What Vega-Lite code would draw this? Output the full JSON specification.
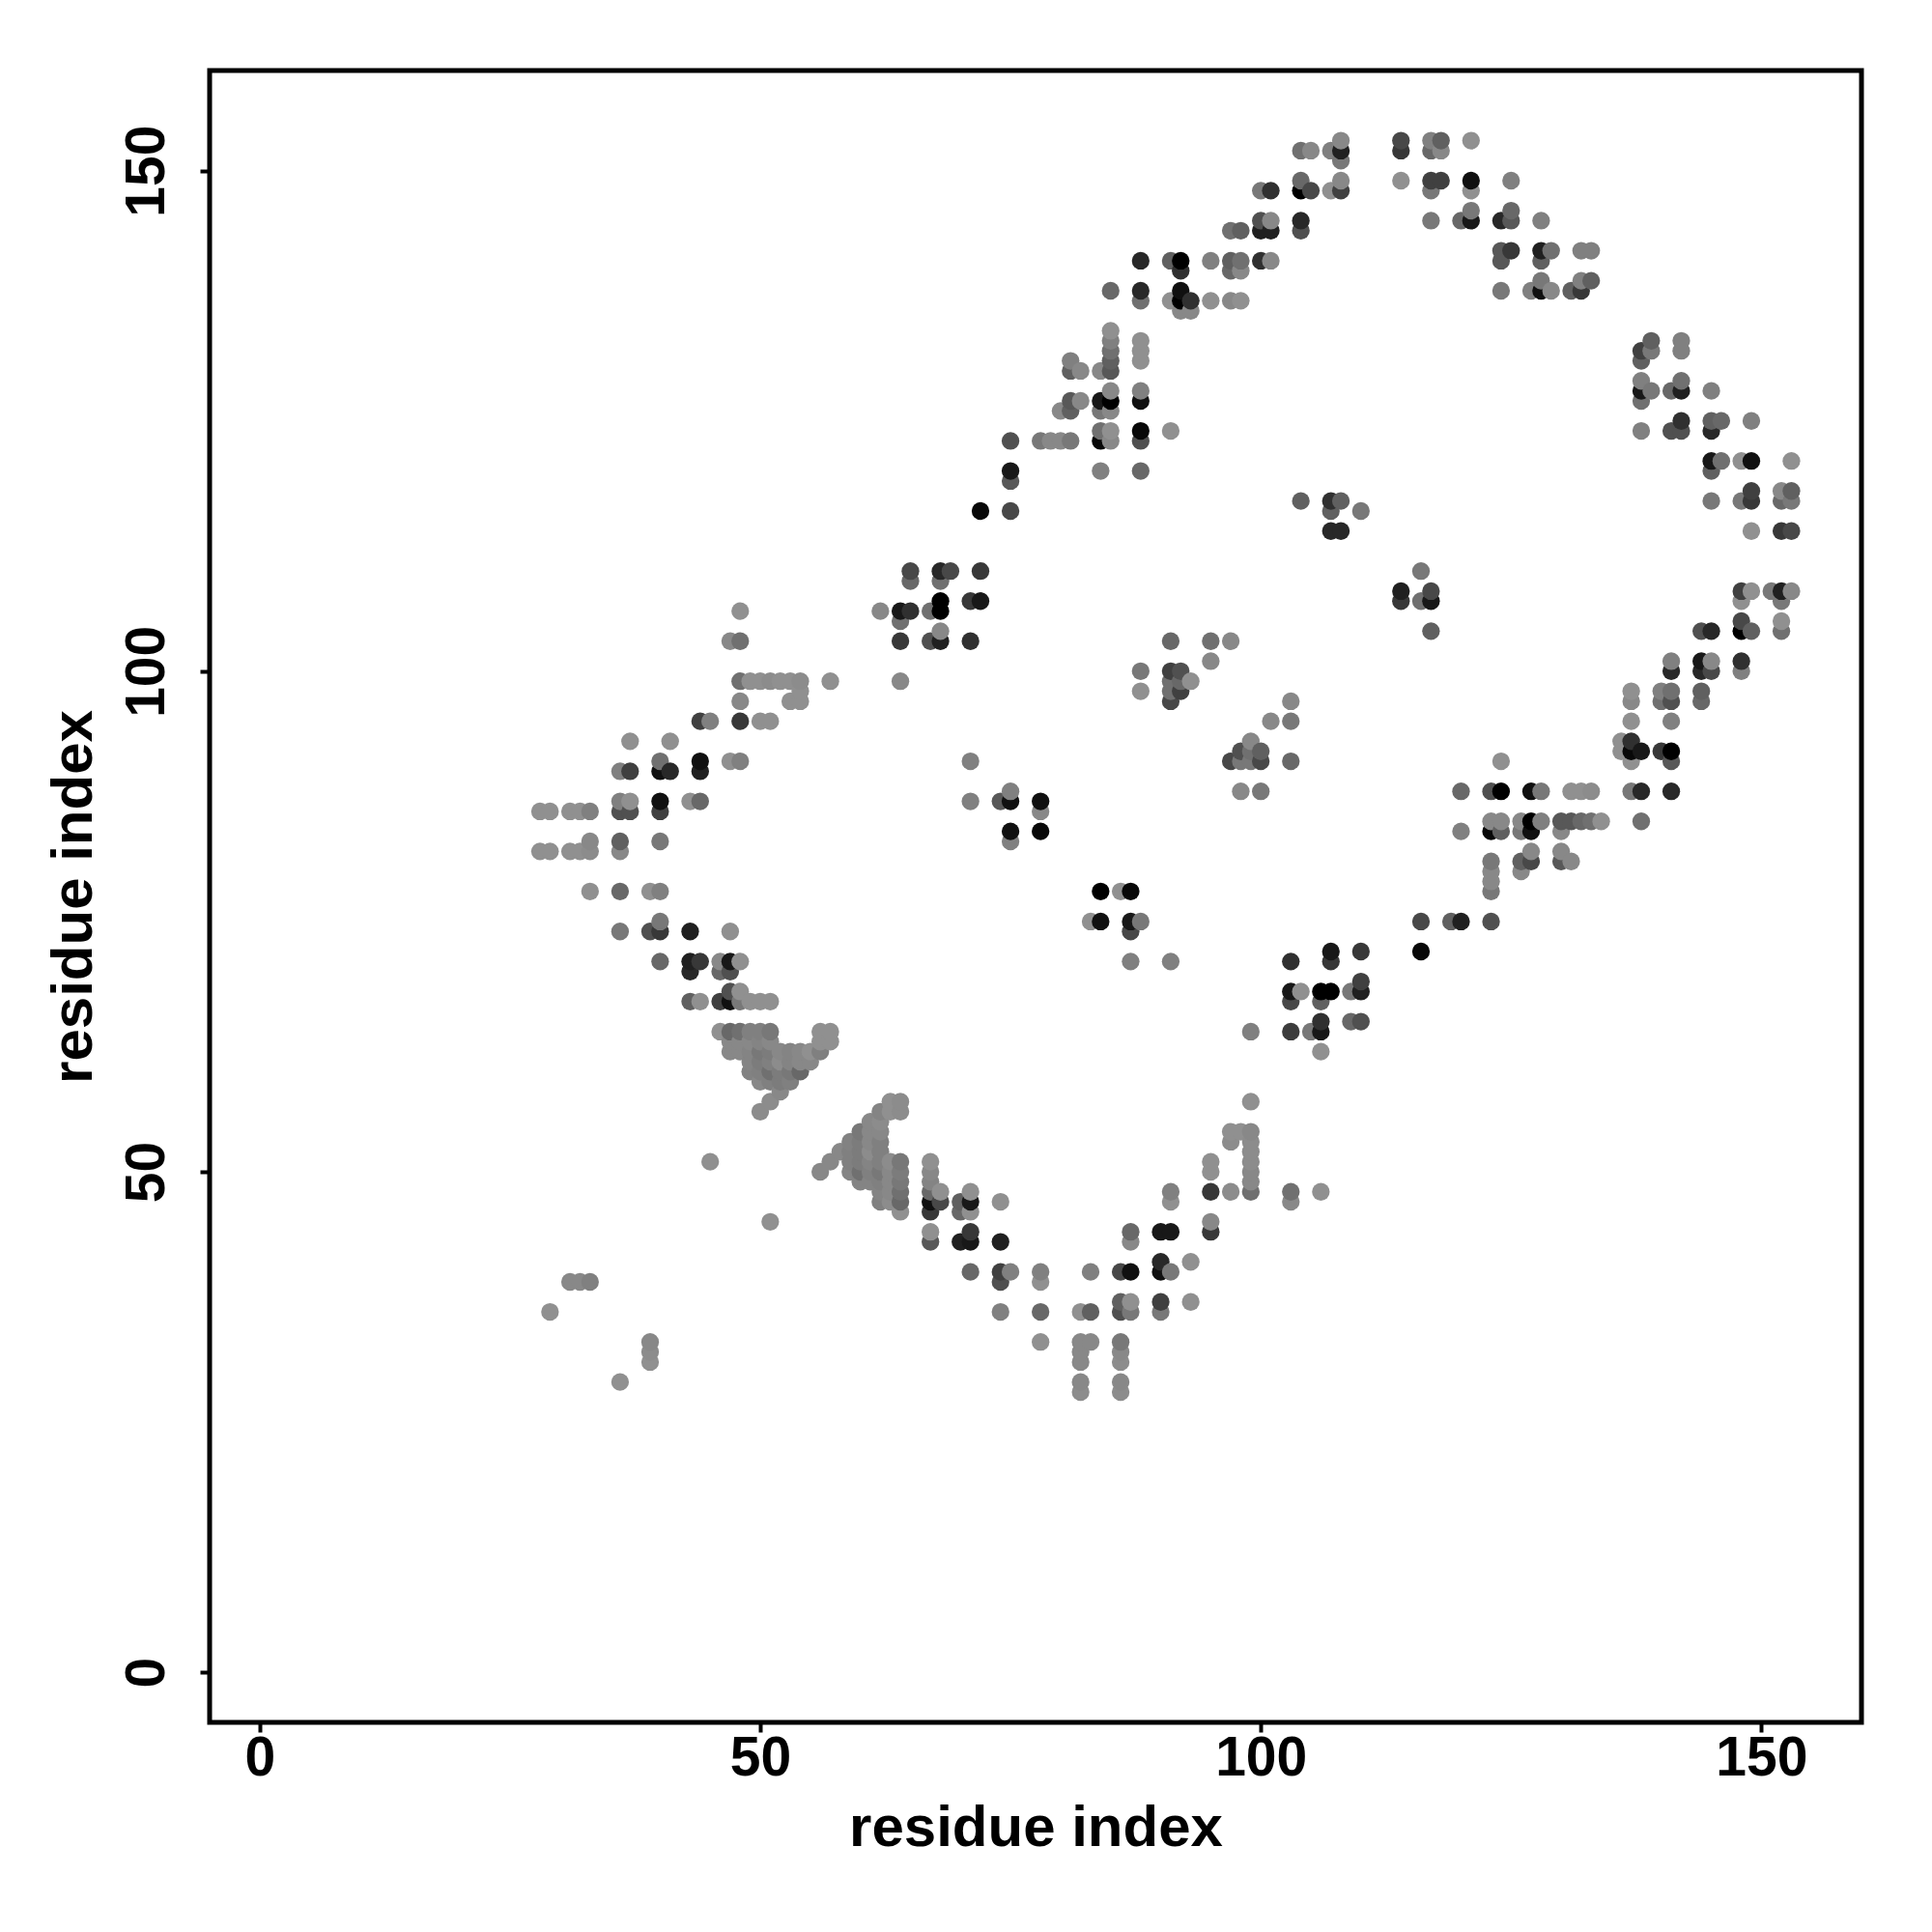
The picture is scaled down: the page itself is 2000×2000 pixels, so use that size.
{"$schema":"https://vega.github.io/schema/vega-lite/v6.json","autosize":{"type":"none"},"padding":{"left":217,"top":73,"right":73,"bottom":217},"width":1710,"height":1710,"background":"white","config":{"view":{"stroke":"black","strokeWidth":5,"fill":"white"}},
"data":{"values":[
{"x":48,"y":106,"g":144},{"x":62,"y":106,"g":136},{"x":64,"y":106,"g":24},{"x":65,"y":106,"g":48},{"x":67,"y":106,"g":112},{"x":68,"y":106,"g":0},
{"x":47,"y":103,"g":136},{"x":48,"y":103,"g":112},{"x":64,"y":103,"g":56},{"x":67,"y":103,"g":80},{"x":68,"y":103,"g":32},{"x":71,"y":103,"g":48},
{"x":65,"y":110,"g":72},{"x":68,"y":110,"g":40},{"x":69,"y":110,"g":72},{"x":72,"y":110,"g":56},{"x":65,"y":109,"g":104},{"x":68,"y":109,"g":112},{"x":68,"y":107,"g":0},{"x":71,"y":107,"g":56},{"x":72,"y":107,"g":24},{"x":64,"y":105,"g":112},{"x":68,"y":104,"g":136},
{"x":48,"y":99,"g":112},{"x":49,"y":99,"g":144},{"x":50,"y":99,"g":144},{"x":51,"y":99,"g":140},{"x":52,"y":99,"g":144},{"x":53,"y":99,"g":144},{"x":54,"y":99,"g":140},{"x":57,"y":99,"g":144},{"x":64,"y":99,"g":136},
{"x":54,"y":98,"g":144},{"x":48,"y":97,"g":136},{"x":53,"y":97,"g":144},{"x":54,"y":97,"g":144},
{"x":44,"y":95,"g":64},{"x":45,"y":95,"g":128},{"x":48,"y":95,"g":56},{"x":50,"y":95,"g":144},{"x":51,"y":95,"g":144},
{"x":37,"y":93,"g":144},{"x":41,"y":93,"g":144},
{"x":40,"y":91,"g":112},{"x":44,"y":91,"g":16},{"x":47,"y":91,"g":144},{"x":48,"y":91,"g":128},{"x":71,"y":91,"g":128},
{"x":36,"y":90,"g":128},{"x":37,"y":90,"g":64},{"x":40,"y":90,"g":16},{"x":41,"y":90,"g":40},{"x":44,"y":90,"g":32},
{"x":36,"y":87,"g":128},{"x":37,"y":87,"g":144},{"x":40,"y":87,"g":16},{"x":43,"y":87,"g":144},{"x":44,"y":87,"g":104},{"x":71,"y":87,"g":128},
{"x":28,"y":86,"g":144},{"x":29,"y":86,"g":144},{"x":31,"y":86,"g":144},{"x":32,"y":86,"g":144},{"x":33,"y":86,"g":128},{"x":36,"y":86,"g":80},{"x":37,"y":86,"g":80},{"x":40,"y":86,"g":64},
{"x":33,"y":83,"g":136},{"x":36,"y":83,"g":96},{"x":40,"y":83,"g":120},
{"x":28,"y":82,"g":144},{"x":29,"y":82,"g":144},{"x":31,"y":82,"g":144},{"x":32,"y":82,"g":144},{"x":33,"y":82,"g":140},{"x":36,"y":82,"g":136},
{"x":33,"y":78,"g":144},{"x":36,"y":78,"g":104},{"x":39,"y":78,"g":144},{"x":40,"y":78,"g":128},
{"x":40,"y":75,"g":120},{"x":36,"y":74,"g":120},{"x":39,"y":74,"g":80},{"x":40,"y":74,"g":56},{"x":43,"y":74,"g":32},{"x":47,"y":74,"g":144},
{"x":40,"y":71,"g":104},{"x":43,"y":71,"g":32},{"x":44,"y":71,"g":56},{"x":46,"y":71,"g":136},{"x":47,"y":71,"g":24},{"x":48,"y":71,"g":144},
{"x":43,"y":70,"g":40},{"x":46,"y":70,"g":104},{"x":47,"y":70,"g":80},{"x":47,"y":68,"g":80},{"x":48,"y":68,"g":144},
{"x":43,"y":67,"g":96},{"x":44,"y":67,"g":144},{"x":46,"y":67,"g":64},{"x":47,"y":67,"g":16},{"x":48,"y":67,"g":120},{"x":49,"y":67,"g":144},{"x":50,"y":67,"g":144},{"x":51,"y":67,"g":144},
{"x":46,"y":64,"g":144},{"x":47,"y":64,"g":104},{"x":48,"y":64,"g":112},{"x":49,"y":64,"g":128},{"x":50,"y":64,"g":128},{"x":51,"y":64,"g":120},{"x":56,"y":64,"g":144},{"x":57,"y":64,"g":144},
{"x":47,"y":63,"g":136},{"x":48,"y":63,"g":136},{"x":49,"y":63,"g":136},{"x":50,"y":63,"g":132},{"x":51,"y":63,"g":136},{"x":56,"y":63,"g":144},{"x":57,"y":63,"g":144},
{"x":47,"y":62,"g":136},{"x":48,"y":62,"g":136},{"x":49,"y":62,"g":132},{"x":50,"y":62,"g":120},{"x":51,"y":62,"g":124},{"x":52,"y":62,"g":136},{"x":53,"y":62,"g":132},{"x":54,"y":62,"g":136},{"x":55,"y":62,"g":144},{"x":56,"y":62,"g":128},
{"x":49,"y":61,"g":132},{"x":50,"y":61,"g":124},{"x":51,"y":61,"g":128},{"x":52,"y":61,"g":140},{"x":53,"y":61,"g":132},{"x":54,"y":61,"g":136},{"x":55,"y":61,"g":136},
{"x":49,"y":60,"g":130},{"x":50,"y":60,"g":128},{"x":51,"y":60,"g":112},{"x":52,"y":60,"g":124},{"x":53,"y":60,"g":120},{"x":54,"y":60,"g":104},
{"x":50,"y":59,"g":136},{"x":51,"y":59,"g":128},{"x":52,"y":59,"g":124},{"x":53,"y":59,"g":128},{"x":52,"y":58,"g":136},{"x":51,"y":57,"g":140},{"x":50,"y":56,"g":140},
{"x":45,"y":51,"g":144},{"x":51,"y":45,"g":144},{"x":31,"y":39,"g":136},{"x":32,"y":39,"g":136},{"x":33,"y":39,"g":128},{"x":29,"y":36,"g":144},{"x":39,"y":33,"g":136},{"x":39,"y":32,"g":140},{"x":39,"y":31,"g":144},{"x":36,"y":29,"g":144},
{"x":63,"y":57,"g":144},{"x":64,"y":57,"g":140},{"x":62,"y":56,"g":132},{"x":63,"y":56,"g":144},{"x":64,"y":56,"g":140},{"x":61,"y":55,"g":136},{"x":62,"y":55,"g":140},{"x":60,"y":54,"g":120},{"x":61,"y":54,"g":136},{"x":62,"y":54,"g":136},
{"x":59,"y":53,"g":130},{"x":60,"y":53,"g":124},{"x":61,"y":53,"g":136},{"x":62,"y":53,"g":128},{"x":58,"y":52,"g":136},{"x":59,"y":52,"g":128},{"x":60,"y":52,"g":124},{"x":61,"y":52,"g":140},{"x":62,"y":52,"g":128},
{"x":57,"y":51,"g":136},{"x":59,"y":51,"g":128},{"x":60,"y":51,"g":124},{"x":61,"y":51,"g":132},{"x":62,"y":51,"g":128},{"x":63,"y":51,"g":140},{"x":64,"y":51,"g":120},
{"x":56,"y":50,"g":136},{"x":59,"y":50,"g":132},{"x":60,"y":50,"g":112},{"x":61,"y":50,"g":128},{"x":62,"y":50,"g":120},{"x":63,"y":50,"g":136},{"x":64,"y":50,"g":124},
{"x":60,"y":49,"g":132},{"x":61,"y":49,"g":132},{"x":62,"y":49,"g":128},{"x":63,"y":49,"g":136},{"x":64,"y":49,"g":120},{"x":62,"y":48,"g":132},{"x":63,"y":48,"g":136},{"x":64,"y":48,"g":112},{"x":62,"y":47,"g":128},{"x":63,"y":47,"g":140},{"x":64,"y":47,"g":104},{"x":64,"y":46,"g":144},
{"x":67,"y":51,"g":144},{"x":67,"y":50,"g":136},{"x":67,"y":49,"g":132},{"x":67,"y":48,"g":104},{"x":67,"y":47,"g":16},{"x":67,"y":46,"g":56},{"x":67,"y":44,"g":144},{"x":67,"y":43,"g":88},{"x":68,"y":48,"g":144},{"x":68,"y":47,"g":72},
{"x":70,"y":47,"g":96},{"x":70,"y":46,"g":104},{"x":70,"y":43,"g":32},{"x":71,"y":48,"g":144},{"x":71,"y":47,"g":24},{"x":71,"y":46,"g":144},{"x":71,"y":44,"g":56},{"x":71,"y":43,"g":24},{"x":71,"y":40,"g":104},
{"x":74,"y":47,"g":144},{"x":74,"y":43,"g":32},{"x":74,"y":40,"g":64},{"x":74,"y":39,"g":80},{"x":74,"y":36,"g":128},{"x":75,"y":40,"g":128},{"x":78,"y":40,"g":128},{"x":78,"y":39,"g":144},{"x":78,"y":36,"g":104},{"x":78,"y":33,"g":144},
{"x":82,"y":36,"g":144},{"x":82,"y":33,"g":136},{"x":82,"y":32,"g":136},{"x":82,"y":31,"g":136},{"x":82,"y":29,"g":136},{"x":82,"y":28,"g":140},{"x":83,"y":40,"g":128},{"x":83,"y":36,"g":96},{"x":83,"y":33,"g":136},
{"x":86,"y":40,"g":72},{"x":86,"y":37,"g":96},{"x":86,"y":36,"g":80},{"x":86,"y":33,"g":120},{"x":86,"y":32,"g":136},{"x":86,"y":31,"g":140},{"x":86,"y":29,"g":136},{"x":86,"y":28,"g":140},
{"x":87,"y":44,"g":104},{"x":87,"y":43,"g":136},{"x":87,"y":40,"g":16},{"x":87,"y":37,"g":144},{"x":87,"y":36,"g":120},{"x":90,"y":44,"g":24},{"x":90,"y":41,"g":40},{"x":90,"y":40,"g":16},{"x":90,"y":37,"g":64},{"x":90,"y":36,"g":120},
{"x":91,"y":48,"g":128},{"x":91,"y":47,"g":144},{"x":91,"y":44,"g":24},{"x":91,"y":40,"g":120},{"x":93,"y":41,"g":144},{"x":93,"y":37,"g":144},
{"x":95,"y":51,"g":144},{"x":95,"y":50,"g":144},{"x":95,"y":48,"g":56},{"x":95,"y":45,"g":136},{"x":95,"y":44,"g":56},{"x":97,"y":54,"g":144},{"x":97,"y":53,"g":140},{"x":97,"y":48,"g":140},{"x":98,"y":54,"g":144},
{"x":99,"y":57,"g":144},{"x":99,"y":54,"g":136},{"x":99,"y":53,"g":140},{"x":99,"y":52,"g":140},{"x":99,"y":51,"g":140},{"x":99,"y":50,"g":136},{"x":99,"y":49,"g":136},{"x":99,"y":48,"g":112},{"x":103,"y":48,"g":112},{"x":103,"y":47,"g":136},{"x":106,"y":48,"g":144},
{"x":84,"y":78,"g":0},{"x":86,"y":78,"g":144},{"x":87,"y":78,"g":8},{"x":83,"y":75,"g":144},{"x":84,"y":75,"g":16},{"x":87,"y":75,"g":24},{"x":88,"y":75,"g":120},{"x":87,"y":74,"g":72},{"x":87,"y":71,"g":128},{"x":91,"y":71,"g":128},
{"x":99,"y":64,"g":128},{"x":103,"y":71,"g":48},{"x":107,"y":72,"g":24},{"x":107,"y":71,"g":56},{"x":110,"y":72,"g":56},{"x":110,"y":69,"g":64},{"x":103,"y":68,"g":24},{"x":104,"y":68,"g":144},{"x":106,"y":68,"g":0},{"x":107,"y":68,"g":0},{"x":109,"y":68,"g":120},{"x":110,"y":68,"g":32},{"x":103,"y":67,"g":72},{"x":106,"y":67,"g":96},{"x":106,"y":65,"g":48},{"x":109,"y":65,"g":104},{"x":110,"y":65,"g":80},{"x":103,"y":64,"g":60},{"x":105,"y":64,"g":120},{"x":106,"y":64,"g":24},{"x":106,"y":62,"g":144},
{"x":116,"y":75,"g":72},{"x":119,"y":75,"g":96},{"x":120,"y":75,"g":32},{"x":123,"y":75,"g":80},{"x":116,"y":72,"g":8},
{"x":75,"y":88,"g":128},{"x":74,"y":87,"g":88},{"x":75,"y":87,"g":16},{"x":78,"y":87,"g":16},{"x":78,"y":86,"g":136},{"x":75,"y":84,"g":16},{"x":78,"y":84,"g":8},{"x":75,"y":83,"g":128},
{"x":103,"y":97,"g":136},{"x":101,"y":95,"g":136},{"x":103,"y":95,"g":120},{"x":99,"y":93,"g":136},{"x":98,"y":92,"g":80},{"x":99,"y":92,"g":112},{"x":100,"y":92,"g":96},{"x":97,"y":91,"g":72},{"x":98,"y":91,"g":120},{"x":99,"y":91,"g":120},{"x":100,"y":91,"g":72},{"x":103,"y":91,"g":104},{"x":98,"y":88,"g":136},{"x":100,"y":88,"g":120},
{"x":91,"y":103,"g":104},{"x":95,"y":103,"g":112},{"x":97,"y":103,"g":136},{"x":95,"y":101,"g":136},{"x":88,"y":100,"g":120},{"x":91,"y":100,"g":64},{"x":92,"y":100,"g":80},{"x":91,"y":99,"g":112},{"x":92,"y":99,"g":104},{"x":93,"y":99,"g":144},{"x":88,"y":98,"g":144},{"x":91,"y":98,"g":112},{"x":92,"y":98,"g":64},{"x":91,"y":97,"g":72},
{"x":104,"y":117,"g":96},{"x":107,"y":117,"g":48},{"x":108,"y":117,"g":96},{"x":107,"y":116,"g":96},{"x":110,"y":116,"g":120},{"x":107,"y":114,"g":40},{"x":108,"y":114,"g":40},{"x":116,"y":110,"g":120},{"x":114,"y":108,"g":32},{"x":117,"y":108,"g":72},{"x":114,"y":107,"g":56},{"x":116,"y":107,"g":112},{"x":117,"y":107,"g":24},{"x":117,"y":104,"g":96},
{"x":108,"y":153,"g":136},{"x":104,"y":152,"g":112},{"x":105,"y":152,"g":136},{"x":107,"y":152,"g":128},{"x":108,"y":152,"g":32},{"x":108,"y":151,"g":120},{"x":104,"y":149,"g":104},{"x":108,"y":149,"g":136},
{"x":100,"y":148,"g":120},{"x":101,"y":148,"g":48},{"x":104,"y":148,"g":0},{"x":105,"y":148,"g":72},{"x":107,"y":148,"g":144},{"x":108,"y":148,"g":64},
{"x":100,"y":145,"g":80},{"x":101,"y":145,"g":136},{"x":104,"y":145,"g":40},{"x":97,"y":144,"g":112},{"x":98,"y":144,"g":96},{"x":100,"y":144,"g":32},{"x":101,"y":144,"g":32},{"x":104,"y":144,"g":80},
{"x":88,"y":141,"g":40},{"x":91,"y":141,"g":96},{"x":92,"y":141,"g":0},{"x":95,"y":141,"g":128},{"x":97,"y":141,"g":96},{"x":98,"y":141,"g":112},{"x":100,"y":141,"g":48},{"x":101,"y":141,"g":136},{"x":92,"y":140,"g":48},{"x":97,"y":140,"g":104},{"x":98,"y":140,"g":136},
{"x":85,"y":138,"g":104},{"x":88,"y":138,"g":40},{"x":92,"y":138,"g":16},{"x":88,"y":137,"g":112},{"x":91,"y":137,"g":144},{"x":92,"y":137,"g":0},{"x":93,"y":137,"g":48},{"x":95,"y":137,"g":144},{"x":97,"y":137,"g":136},{"x":98,"y":137,"g":144},{"x":92,"y":136,"g":136},{"x":93,"y":136,"g":136},
{"x":85,"y":134,"g":144},{"x":85,"y":133,"g":128},{"x":85,"y":132,"g":112},{"x":85,"y":131,"g":96},{"x":85,"y":130,"g":88},{"x":88,"y":133,"g":144},{"x":88,"y":132,"g":144},{"x":88,"y":131,"g":144},{"x":81,"y":131,"g":128},{"x":81,"y":130,"g":96},{"x":82,"y":130,"g":136},{"x":84,"y":130,"g":136},
{"x":85,"y":128,"g":136},{"x":88,"y":128,"g":128},{"x":81,"y":127,"g":88},{"x":82,"y":127,"g":136},{"x":84,"y":127,"g":24},{"x":85,"y":127,"g":0},{"x":88,"y":127,"g":16},{"x":80,"y":126,"g":136},{"x":81,"y":126,"g":96},{"x":84,"y":126,"g":120},{"x":85,"y":126,"g":136},
{"x":84,"y":124,"g":112},{"x":85,"y":124,"g":144},{"x":88,"y":124,"g":8},{"x":91,"y":124,"g":144},{"x":75,"y":123,"g":80},{"x":78,"y":123,"g":120},{"x":79,"y":123,"g":136},{"x":80,"y":123,"g":136},{"x":81,"y":123,"g":120},{"x":84,"y":123,"g":8},{"x":85,"y":123,"g":136},{"x":88,"y":123,"g":80},
{"x":75,"y":120,"g":24},{"x":84,"y":120,"g":128},{"x":88,"y":120,"g":104},{"x":75,"y":119,"g":88},{"x":72,"y":116,"g":8},{"x":75,"y":116,"g":72},
{"x":114,"y":153,"g":72},{"x":117,"y":153,"g":128},{"x":118,"y":153,"g":96},{"x":121,"y":153,"g":144},{"x":114,"y":152,"g":56},{"x":117,"y":152,"g":104},{"x":118,"y":152,"g":136},
{"x":114,"y":149,"g":144},{"x":117,"y":149,"g":64},{"x":118,"y":149,"g":64},{"x":121,"y":149,"g":16},{"x":125,"y":149,"g":128},{"x":117,"y":148,"g":120},{"x":121,"y":148,"g":144},
{"x":121,"y":146,"g":120},{"x":125,"y":146,"g":104},{"x":117,"y":145,"g":120},{"x":120,"y":145,"g":104},{"x":121,"y":145,"g":24},{"x":124,"y":145,"g":40},{"x":125,"y":145,"g":88},{"x":128,"y":145,"g":128},
{"x":124,"y":142,"g":88},{"x":125,"y":142,"g":56},{"x":128,"y":142,"g":32},{"x":129,"y":142,"g":112},{"x":132,"y":142,"g":128},{"x":133,"y":142,"g":128},{"x":124,"y":141,"g":88},{"x":128,"y":141,"g":96},
{"x":128,"y":139,"g":120},{"x":132,"y":139,"g":128},{"x":133,"y":139,"g":96},{"x":124,"y":138,"g":120},{"x":127,"y":138,"g":128},{"x":128,"y":138,"g":16},{"x":129,"y":138,"g":136},{"x":131,"y":138,"g":96},{"x":132,"y":138,"g":56},
{"x":139,"y":133,"g":96},{"x":142,"y":133,"g":128},{"x":138,"y":132,"g":64},{"x":139,"y":132,"g":120},{"x":142,"y":132,"g":128},{"x":138,"y":131,"g":96},{"x":138,"y":129,"g":128},{"x":142,"y":129,"g":112},
{"x":138,"y":128,"g":24},{"x":139,"y":128,"g":120},{"x":141,"y":128,"g":104},{"x":142,"y":128,"g":32},{"x":145,"y":128,"g":128},{"x":138,"y":127,"g":112},
{"x":142,"y":125,"g":48},{"x":145,"y":125,"g":96},{"x":146,"y":125,"g":104},{"x":149,"y":125,"g":128},{"x":138,"y":124,"g":128},{"x":141,"y":124,"g":80},{"x":142,"y":124,"g":80},{"x":145,"y":124,"g":40},
{"x":145,"y":121,"g":24},{"x":146,"y":121,"g":112},{"x":148,"y":121,"g":144},{"x":149,"y":121,"g":16},{"x":153,"y":121,"g":144},{"x":145,"y":120,"g":96},
{"x":149,"y":118,"g":64},{"x":152,"y":118,"g":136},{"x":153,"y":118,"g":96},{"x":145,"y":117,"g":120},{"x":148,"y":117,"g":120},{"x":149,"y":117,"g":56},{"x":152,"y":117,"g":104},{"x":153,"y":117,"g":120},{"x":149,"y":114,"g":144},{"x":152,"y":114,"g":56},{"x":153,"y":114,"g":72},
{"x":148,"y":108,"g":64},{"x":149,"y":108,"g":144},{"x":151,"y":108,"g":120},{"x":152,"y":108,"g":32},{"x":153,"y":108,"g":136},{"x":148,"y":107,"g":144},{"x":152,"y":107,"g":120},{"x":148,"y":105,"g":72},{"x":152,"y":105,"g":144},
{"x":144,"y":104,"g":80},{"x":145,"y":104,"g":40},{"x":148,"y":104,"g":0},{"x":149,"y":104,"g":96},{"x":152,"y":104,"g":112},
{"x":141,"y":101,"g":128},{"x":144,"y":101,"g":24},{"x":145,"y":101,"g":136},{"x":148,"y":101,"g":48},{"x":141,"y":100,"g":40},{"x":144,"y":100,"g":40},{"x":145,"y":100,"g":72},{"x":148,"y":100,"g":128},
{"x":137,"y":98,"g":144},{"x":140,"y":98,"g":128},{"x":141,"y":98,"g":112},{"x":144,"y":98,"g":96},{"x":137,"y":97,"g":136},{"x":140,"y":97,"g":112},{"x":141,"y":97,"g":80},{"x":144,"y":97,"g":104},{"x":137,"y":95,"g":144},{"x":141,"y":95,"g":128},
{"x":136,"y":93,"g":144},{"x":137,"y":93,"g":48},{"x":136,"y":92,"g":144},{"x":137,"y":92,"g":8},{"x":138,"y":92,"g":24},{"x":140,"y":92,"g":56},{"x":141,"y":92,"g":0},{"x":137,"y":91,"g":144},{"x":141,"y":91,"g":88},
{"x":124,"y":91,"g":144},{"x":120,"y":88,"g":104},{"x":123,"y":88,"g":80},{"x":124,"y":88,"g":0},{"x":127,"y":88,"g":16},{"x":128,"y":88,"g":120},{"x":131,"y":88,"g":144},{"x":132,"y":88,"g":144},{"x":133,"y":88,"g":140},{"x":137,"y":88,"g":120},{"x":138,"y":88,"g":40},{"x":141,"y":88,"g":40},
{"x":123,"y":85,"g":136},{"x":124,"y":85,"g":136},{"x":126,"y":85,"g":136},{"x":127,"y":85,"g":0},{"x":128,"y":85,"g":128},{"x":130,"y":85,"g":88},{"x":131,"y":85,"g":88},{"x":132,"y":85,"g":104},{"x":133,"y":85,"g":112},{"x":134,"y":85,"g":144},{"x":138,"y":85,"g":112},
{"x":120,"y":84,"g":128},{"x":123,"y":84,"g":8},{"x":124,"y":84,"g":96},{"x":126,"y":84,"g":120},{"x":127,"y":84,"g":16},{"x":130,"y":84,"g":136},{"x":127,"y":82,"g":136},{"x":130,"y":82,"g":136},
{"x":123,"y":81,"g":120},{"x":126,"y":81,"g":96},{"x":127,"y":81,"g":72},{"x":130,"y":81,"g":88},{"x":131,"y":81,"g":136},{"x":123,"y":80,"g":136},{"x":126,"y":80,"g":136},{"x":123,"y":79,"g":136},{"x":123,"y":78,"g":120}
]},
"transform":[{"window":[{"op":"row_number","as":"k"}],"sort":[{"field":"x"},{"field":"y"}]}],
"mark":{"type":"point","filled":true,"opacity":1,"size":335,"strokeWidth":0},
"encoding":{
"x":{"field":"x","type":"quantitative","scale":{"domain":[-5,160],"nice":false,"zero":false},"axis":{"values":[0,50,100,150],"grid":false,"domain":false,"tickColor":"black","tickSize":10,"tickWidth":4,"labelFont":"Liberation Sans","labelFontWeight":"bold","labelFontSize":57,"labelColor":"black","labelPadding":-1,"title":"residue index","titleFont":"Liberation Sans","titleFontWeight":"bold","titleFontSize":60,"titleColor":"black","titlePadding":15}},
"y":{"field":"y","type":"quantitative","scale":{"domain":[-5,160],"nice":false,"zero":false},"axis":{"values":[0,50,100,150],"grid":false,"domain":false,"tickColor":"black","tickSize":10,"tickWidth":4,"labelFont":"Liberation Sans","labelFontWeight":"bold","labelFontSize":57,"labelColor":"black","labelAngle":-90,"labelAlign":"center","labelBaseline":"bottom","labelPadding":26,"title":"residue index","titleFont":"Liberation Sans","titleFontWeight":"bold","titleFontSize":60,"titleColor":"black","titlePadding":16}},
"color":{"field":"g","type":"quantitative","legend":null,"scale":{"domain":[0,255],"range":["#000000","#ffffff"],"interpolate":"rgb"}},
"order":{"field":"k","type":"quantitative"}
}}
